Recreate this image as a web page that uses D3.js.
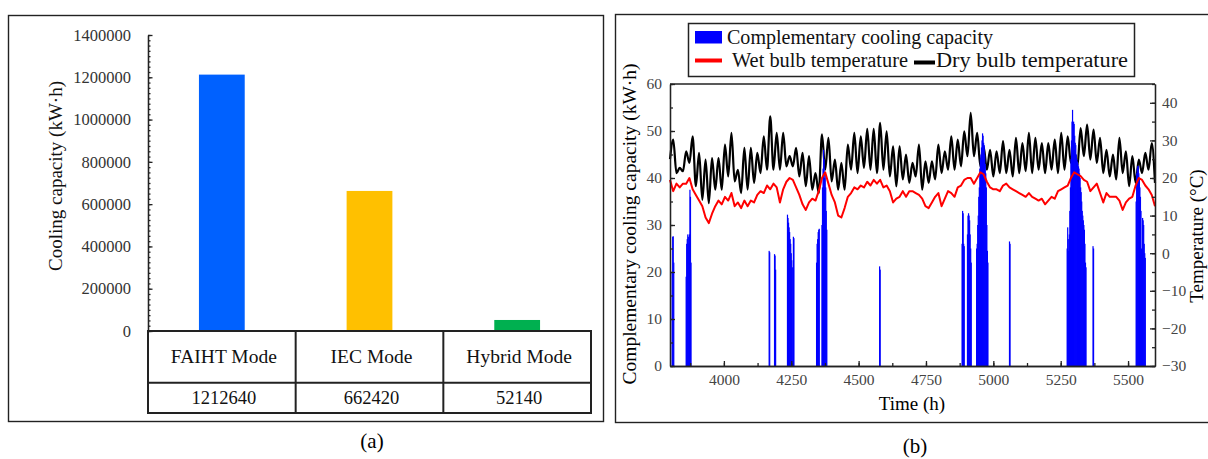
<!DOCTYPE html>
<html>
<head>
<meta charset="utf-8">
<script src="https://cdn.jsdelivr.net/npm/d3@7"></script>
<style>
	body { margin: 0; background: #fff; }
	svg text { font-family: "Palatino Linotype", "Book Antiqua", Palatino, "Liberation Serif", serif; }
</style>
</head>
<body>
<svg id="fig" width="1208" height="459"></svg>
<script>
// ---- panel (a) data
var modes = ['FAIHT Mode', 'IEC Mode', 'Hybrid Mode'];
var modeCapacity = [1212640, 662420, 52140];
var modeColors = ['#0061ff', '#ffc000', '#00b050'];
var capacityTicks = [0, 200000, 400000, 600000, 800000, 1000000, 1200000, 1400000];

// ---- panel (b) data
var timeTicks = [4000, 4250, 4500, 4750, 5000, 5250, 5500];
var coolTicks = [0, 10, 20, 30, 40, 50, 60];
var tempTicks = [-30, -20, -10, 0, 10, 20, 30, 40];

// temperatures read every 12 h starting at hour 3800
var seriesStart = 3800, seriesStep = 12;
// daily minima / maxima of dry bulb temperature (min first, then max, min, ...)
var dryBulbMin = [25, 21.3, 21.8, 24, 17.8, 14.2, 13.3, 16.9, 16.9, 20.4, 19.1, 16, 16.9, 18.7, 21.3, 22.2, 22.2, 22.2, 23.1,
	23.1, 20.4, 17.8, 16.9, 16, 22.2, 19.1, 16.9, 16.9, 22.2, 21.3, 22.7, 22.2, 21.3, 22.2, 20.4, 17.8, 19.6, 18.7,
	20.4, 16.9, 18.7, 19.6, 21.3, 22.2, 22.2, 23.1, 25.8, 25.8, 23.1, 22.2, 20.4, 21.3, 21.3, 20.4, 21.3, 21.8, 21.3,
	22.2, 21.3, 22.2, 21.3, 22.2, 24, 23.1, 25.8, 24.9, 24, 21.3, 20.4, 19.6, 21.3, 17.8, 18.7, 21.3, 22.2, 18.7];
var dryBulbMax = [30.2, 22.7, 27.1, 31.1, 26.7, 24.9, 25.3, 25.3, 28.9, 32, 22.2, 28, 28, 26.7, 31.1, 36.4, 32, 32, 25.8,
	28, 26.7, 25.8, 21.3, 31.6, 30.7, 24.9, 24, 28.9, 32, 31.1, 33.1, 33.1, 34.7, 32.4, 28.4, 28.4, 26.2,
	24, 28.9, 24.4, 24.4, 28.9, 27.1, 31.1, 30.2, 32.4, 37.3, 32, 28.4, 27.5, 27.1, 29.8, 27.5, 30.7, 29.3, 32,
	30.7, 29.3, 29.3, 30.2, 32, 31.1, 27.1, 33.3, 34.2, 32.9, 30.7, 27.5, 26.2, 30.7, 27.1, 25.8, 24.9, 26.7, 29.3];
var wetBulb = [19.5, 16.5, 18.5, 17.5, 18.5, 18.5, 20, 17, 15.5, 14, 12.5, 9.5, 8, 10.5, 12.5, 14, 13, 15, 14, 16,
	12.5, 13.5, 12, 14, 12.5, 14, 13.5, 15.5, 16.5, 16, 18, 17, 18.5, 17.5, 13.5, 17, 19, 20,
	19.5, 17.5, 15.5, 13, 11.5, 13.5, 14.5, 14, 16.5, 20, 21.5, 18.5, 15.5, 13.5, 10, 9.5, 12, 15, 16, 17.5,
	17, 18, 17.5, 19, 18, 19.5, 18.5, 19.5, 17.5, 18, 16.5, 13.5, 14.5, 15, 16.5, 15, 16.5,
	16.5, 16, 15.5, 14.5, 12.5, 12, 13.5, 15, 16, 12.5, 14.5, 16.5, 16, 15, 17.5, 18, 19.5, 20, 20, 18.5,
	20, 21.5, 21, 19, 17.5, 17, 17, 16.5, 18, 18.5, 17.5, 17, 16.5, 16, 15.5, 15, 16,
	15, 14.5, 14, 14.5, 13, 14, 15, 14.5, 16.5, 17, 17.5, 18, 20, 21.5, 21, 20.5, 19.5, 19, 16.5, 17.5,
	18.5, 16, 13.5, 16, 15, 15, 15, 14, 11.5, 13.5, 14.5, 15, 18, 20, 19.5, 18, 17, 15.5, 12.5];
// [hour, kW·h] of complementary cooling
var coolingSpikes = [
	[3808, 20], [3810, 27.5], [3812, 27.6], [3814, 22],
	[3860, 19], [3862, 26], [3864, 27], [3866, 28], [3868, 27.5], [3870, 26], [3872, 28], [3874, 37.5], [3876, 36], [3878, 22],
	[4168, 24.5], [4170, 24.2],
	[4188, 23.8], [4190, 23.5], [4192, 20.5],
	[4236, 32.2], [4238, 31.5], [4240, 30.5], [4242, 29.5], [4244, 28.5], [4246, 27], [4248, 26], [4250, 24], [4252, 22.5], [4254, 21], [4258, 27.5], [4260, 27.2],
	[4344, 22], [4346, 26], [4348, 27], [4350, 28.5], [4352, 29], [4354, 29.2],
	[4364, 30], [4366, 38], [4368, 42], [4370, 46], [4372, 44], [4374, 40], [4376, 41], [4378, 38], [4380, 33], [4382, 29],
	[4578, 21.2], [4580, 20.5],
	[4884, 26], [4886, 33], [4888, 32.5], [4890, 26], [4892, 25.5],
	[4904, 28], [4906, 32], [4908, 32.5], [4910, 32], [4912, 31], [4914, 28], [4916, 25], [4918, 22],
	[4938, 25], [4940, 26], [4942, 30], [4944, 32], [4946, 36], [4948, 38], [4950, 42], [4952, 44], [4954, 45], [4956, 46.5],
	[4958, 48], [4960, 49.5], [4962, 49], [4964, 47.5], [4966, 47], [4968, 45], [4970, 43], [4972, 41], [4974, 38], [4976, 30], [4978, 24.5], [4980, 22],
	[5060, 26.5], [5062, 26],
	[5274, 25], [5276, 29.5], [5278, 27], [5280, 24.5], [5282, 28], [5284, 33], [5286, 38], [5288, 44], [5290, 48], [5292, 52],
	[5294, 54.5], [5296, 51], [5298, 52], [5300, 51.5], [5302, 49], [5304, 47.5], [5306, 47], [5308, 45], [5310, 44], [5312, 43.5],
	[5314, 43], [5316, 42.5], [5318, 42], [5320, 41], [5322, 40], [5324, 38], [5326, 37], [5328, 35], [5330, 33], [5332, 32],
	[5334, 31], [5336, 30], [5338, 29], [5340, 26], [5342, 22], [5344, 21],
	[5370, 25.5], [5372, 25],
	[5530, 35], [5532, 41], [5534, 42], [5536, 42.5], [5538, 42.6], [5540, 41], [5542, 40], [5544, 38], [5546, 36], [5548, 33],
	[5550, 25], [5552, 22], [5554, 31.5], [5556, 31], [5558, 30], [5560, 26], [5562, 24], [5564, 23]
];

var Fig = {

	axisStyle: function(g, color, size) {
		g.selectAll('path, line').attr('stroke', '#222').attr('stroke-width', 1.3);
		g.selectAll('text').attr('fill', color).style('font-size', size || '15.5px');
	},

	// bar chart with the value table under it
	drawPanelA: function(svg) {
		svg.append('rect')
			.attr('x', 8.5).attr('y', 15.5).attr('width', 595).attr('height', 406)
			.attr('fill', 'none').attr('stroke', '#222').attr('stroke-width', 1.4);

		var y = d3.scaleLinear().domain([0, 1400000]).range([331, 35]);
		var x = d3.scaleBand().domain(modes).range([148, 591]);
		var barW = x.bandwidth() * 0.31;

		var minor = svg.append('g').attr('transform', 'translate(148,0)')
			.call(d3.axisLeft(y).tickValues(d3.range(0, 1400001, 25000)).tickSize(-2.5).tickSizeOuter(0).tickFormat(''));
		Fig.axisStyle(minor, '#333');
		var axis = svg.append('g').attr('transform', 'translate(148,0)')
			.call(d3.axisLeft(y).tickValues(capacityTicks).tickSize(-4.5).tickSizeOuter(0).tickPadding(17).tickFormat(d3.format('d')));
		Fig.axisStyle(axis, '#333', '16.5px');

		svg.selectAll('rect.mode')
			.data(modes)
			.enter()
			.append('rect')
			.attr('class', 'mode')
			.attr('x', function(d) { return x(d) + x.bandwidth() / 2 - barW / 2; })
			.attr('width', barW)
			.attr('y', function(d, i) { return y(modeCapacity[i]); })
			.attr('height', function(d, i) { return y(0) - y(modeCapacity[i]); })
			.attr('fill', function(d, i) { return modeColors[i]; });

		// table lines
		var rows = [y(0), 382.7, 413];
		var cols = modes.map(function(d) { return x(d); }).concat([x.range()[1]]);
		var t = svg.append('g').attr('stroke', '#222').attr('stroke-width', 2);
		rows.forEach(function(r) {
			t.append('line').attr('x1', cols[0] - 1).attr('x2', cols[3] + 1).attr('y1', r).attr('y2', r);
		});
		cols.forEach(function(c) {
			t.append('line').attr('x1', c).attr('x2', c).attr('y1', rows[0]).attr('y2', rows[2]);
		});

		svg.selectAll('text.mode-name')
			.data(modes)
			.enter()
			.append('text')
			.attr('class', 'mode-name')
			.attr('x', function(d) { return x(d) + x.bandwidth() / 2 + 2; })
			.attr('y', 363)
			.attr('text-anchor', 'middle')
			.style('font-size', '19.5px')
			.attr('fill', '#111')
			.text(function(d) { return d; });

		svg.selectAll('text.mode-value')
			.data(modeCapacity)
			.enter()
			.append('text')
			.attr('class', 'mode-value')
			.attr('x', function(d, i) { return x(modes[i]) + x.bandwidth() / 2 + 2; })
			.attr('y', 404)
			.attr('text-anchor', 'middle')
			.style('font-size', '18.5px')
			.attr('fill', '#111')
			.text(function(d) { return d; });

		svg.append('text')
			.attr('transform', 'translate(62,176) rotate(-90)')
			.attr('text-anchor', 'middle')
			.style('font-size', '19px')
			.attr('fill', '#111')
			.text('Cooling capacity (kW·h)');

		svg.append('text')
			.attr('x', 372).attr('y', 448)
			.attr('text-anchor', 'middle')
			.style('font-size', '21px')
			.text('(a)');
	},

	// cooling spikes with wet / dry bulb temperature
	drawPanelB: function(svg) {
		svg.append('rect')
			.attr('x', 615.5).attr('y', 14.5).attr('width', 620).attr('height', 408)
			.attr('fill', 'none').attr('stroke', '#222').attr('stroke-width', 1.4);

		var x = d3.scaleLinear().domain([3800, 5600]).range([670, 1155]);
		var yCool = d3.scaleLinear().domain([0, 60]).range([366, 84]);
		var yTemp = d3.scaleLinear().domain([-30, 45]).range([366, 84]);
		var hour = function(i) { return seriesStart + seriesStep * i; };

		var dry = d3.merge(dryBulbMax.map(function(v, i) { return [dryBulbMin[i], v]; }))
			.concat([dryBulbMin[dryBulbMin.length - 1]]);

		var plot = svg.append('g');

		plot.append('path')
			.datum(dry)
			.attr('fill', 'none')
			.attr('stroke', '#000')
			.attr('stroke-width', 2.2)
			.attr('d', d3.line()
				.x(function(d, i) { return x(hour(i)); })
				.y(function(d) { return yTemp(d); })
				.curve(d3.curveMonotoneX));

		plot.selectAll('rect.spike')
			.data(coolingSpikes)
			.enter()
			.append('rect')
			.attr('class', 'spike')
			.attr('x', function(d) { return x(d[0]) - 0.6; })
			.attr('width', function(d) { return Math.max(1.2, x(d[0] + 1) - x(d[0] - 1)); })
			.attr('y', function(d) { return yCool(d[1]); })
			.attr('height', function(d) { return yCool(0) - yCool(d[1]); })
			.attr('fill', '#0000ff');

		plot.append('path')
			.datum(wetBulb)
			.attr('fill', 'none')
			.attr('stroke', '#ff0000')
			.attr('stroke-width', 2)
			.attr('stroke-linejoin', 'round')
			.attr('d', d3.line()
				.x(function(d, i) { return x(hour(i)); })
				.y(function(d) { return yTemp(d); }));

		// axes: all ticks point inward
		var g;
		g = svg.append('g').attr('transform', 'translate(670,0)')
			.call(d3.axisLeft(yCool).tickValues(d3.range(0, 61, 5)).tickSize(-3).tickSizeOuter(0).tickFormat(''));
		Fig.axisStyle(g, '#444');
		g = svg.append('g').attr('transform', 'translate(670,0)')
			.call(d3.axisLeft(yCool).tickValues(coolTicks).tickSize(-5).tickSizeOuter(0).tickPadding(8));
		Fig.axisStyle(g, '#444');

		g = svg.append('g').attr('transform', 'translate(1155,0)')
			.call(d3.axisRight(yTemp).tickValues(d3.range(-30, 46, 5)).tickSize(-3).tickSizeOuter(0).tickFormat(''));
		Fig.axisStyle(g, '#444');
		g = svg.append('g').attr('transform', 'translate(1155,0)')
			.call(d3.axisRight(yTemp).tickValues(tempTicks).tickSize(-5).tickSizeOuter(0).tickPadding(7));
		Fig.axisStyle(g, '#444');

		g = svg.append('g').attr('transform', 'translate(0,366)')
			.call(d3.axisBottom(x).tickValues(d3.range(3875, 5600, 125)).tickSize(-3).tickSizeOuter(0).tickFormat(''));
		Fig.axisStyle(g, '#444');
		g = svg.append('g').attr('transform', 'translate(0,366)')
			.call(d3.axisBottom(x).tickValues(timeTicks).tickSize(-5).tickSizeOuter(0).tickPadding(8).tickFormat(d3.format('d')));
		Fig.axisStyle(g, '#444');

		svg.append('line')
			.attr('x1', 670).attr('x2', 1155).attr('y1', 84).attr('y2', 84)
			.attr('stroke', '#222').attr('stroke-width', 1.3);

		svg.append('text')
			.attr('x', 912).attr('y', 410)
			.attr('text-anchor', 'middle')
			.style('font-size', '19px')
			.text('Time (h)');

		svg.append('text')
			.attr('transform', 'translate(636,224) rotate(-90)')
			.attr('text-anchor', 'middle')
			.style('font-size', '19.5px')
			.text('Complementary cooling capacity (kW·h)');

		svg.append('text')
			.attr('transform', 'translate(1203,236) rotate(-90)')
			.attr('text-anchor', 'middle')
			.style('font-size', '19px')
			.text('Temperature (°C)');

		Fig.drawLegend(svg);

		svg.append('text')
			.attr('x', 915).attr('y', 453)
			.attr('text-anchor', 'middle')
			.style('font-size', '21px')
			.text('(b)');
	},

	drawLegend: function(svg) {
		var lg = svg.append('g');
		lg.append('rect')
			.attr('x', 688.5).attr('y', 23.5).attr('width', 446).attr('height', 53)
			.attr('fill', '#fff').attr('stroke', '#222').attr('stroke-width', 1.5);
		lg.append('rect')
			.attr('x', 695).attr('y', 31).attr('width', 27).attr('height', 12.5)
			.attr('fill', '#0000ff');
		lg.append('line')
			.attr('x1', 695).attr('x2', 722).attr('y1', 60.5).attr('y2', 60.5)
			.attr('stroke', '#ff0000').attr('stroke-width', 4);
		lg.append('line')
			.attr('x1', 914).attr('x2', 935).attr('y1', 62.5).attr('y2', 62.5)
			.attr('stroke', '#000').attr('stroke-width', 4);

		// text, x, baseline, width seen in the figure
		var labels = [
			['Complementary cooling capacity', 727, 43.5, 266],
			['Wet bulb temperature', 732, 66.5, 176],
			['Dry bulb temperature', 936, 66.5, 192]
		];
		lg.selectAll('text')
			.data(labels)
			.enter()
			.append('text')
			.attr('x', function(d) { return d[1]; })
			.attr('y', function(d) { return d[2]; })
			.attr('textLength', function(d) { return d[3]; })
			.attr('lengthAdjust', 'spacingAndGlyphs')
			.style('font-size', '20px')
			.attr('fill', '#111')
			.text(function(d) { return d[0]; });
	}
};

var svg = d3.select('#fig');
svg.append('rect').attr('width', 1208).attr('height', 459).attr('fill', '#fff');
Fig.drawPanelA(svg);
Fig.drawPanelB(svg);
</script>
</body>
</html>
